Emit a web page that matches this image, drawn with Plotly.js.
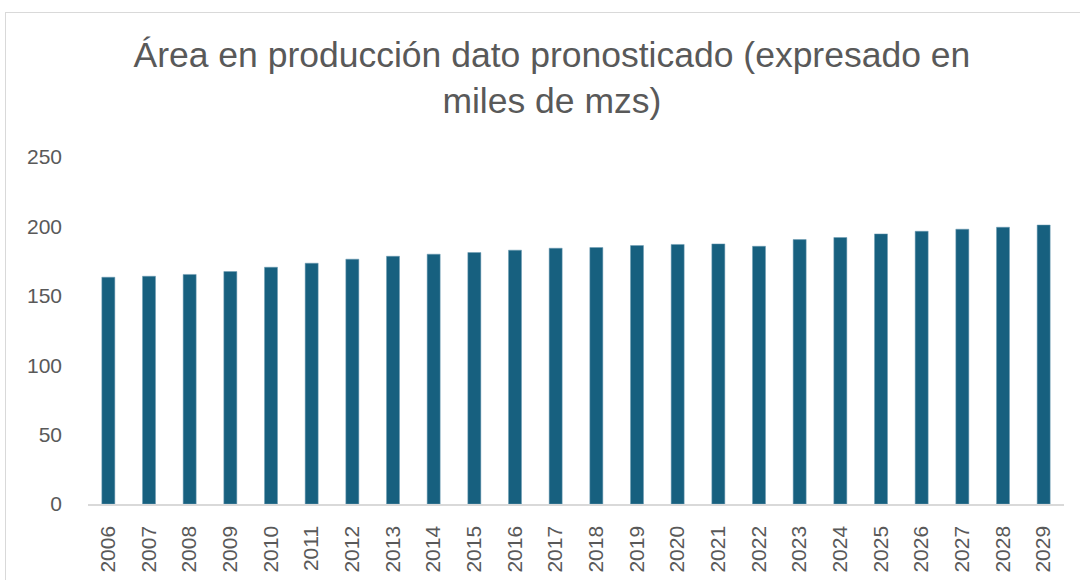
<!DOCTYPE html>
<html>
<head>
<meta charset="utf-8">
<script src="https://cdn.plot.ly/plotly-3.0.1.min.js"></script>
<style>
  html, body { margin: 0; padding: 0; background: #ffffff; overflow: hidden; }
  #frame { position: absolute; left: 5px; top: 12px; width: 1200px; height: 700px; border: 1px solid #d9d9d9; box-sizing: border-box; pointer-events: none; }
  #chart { position: absolute; left: 0; top: 0; width: 1080px; height: 580px; }
</style>
</head>
<body>
<div id="chart"></div>
<div id="frame"></div>
<script>
const years = ["2006","2007","2008","2009","2010","2011","2012","2013","2014","2015","2016","2017",
               "2018","2019","2020","2021","2022","2023","2024","2025","2026","2027","2028","2029"];
const area = [163.4, 164.1, 165.4, 167.5, 170.6, 173.5, 176.4, 178.5, 180.0, 181.2, 182.9, 184.3,
              184.8, 186.2, 187.0, 187.4, 185.7, 190.5, 192.0, 194.6, 196.5, 198.0, 199.4, 201.0];
const yTicks = [0, 50, 100, 150, 200, 250];

const FONT = 'Liberation Sans, Arial, sans-serif';

const trace = {
  type: 'bar',
  x: years,
  y: area,
  marker: { color: '#17607f', line: { color: '#6f9db5', width: 0.5 } },
  hoverinfo: 'x+y'
};

const layout = {
  width: 1080,
  height: 580,
  paper_bgcolor: 'rgba(0,0,0,0)',
  plot_bgcolor: '#ffffff',
  margin: { l: 88, r: 16, t: 157, b: 76 },
  bargap: 0.68,
  showlegend: false,
  font: { family: FONT, color: '#595959' },
  title: {
    text: 'Área en producción dato pronosticado (expresado en<br>miles de mzs)',
    font: { family: FONT, size: 35.5, color: '#595959' },
    x: 0.511, xref: 'container', xanchor: 'center',
    y: 0.884, yref: 'container', yanchor: 'middle'
  },
  xaxis: {
    type: 'category',
    tickangle: -90,
    tickfont: { family: FONT, size: 21, color: '#595959' },
    showgrid: false,
    showline: true,
    linecolor: '#d9d9d9',
    linewidth: 1.5,
    ticks: '',
    ticklabelstandoff: 12,
    fixedrange: true
  },
  yaxis: {
    range: [0, 250],
    tickvals: yTicks,
    ticktext: yTicks.map(String),
    tickfont: { family: FONT, size: 21, color: '#595959' },
    showgrid: false,
    zeroline: false,
    showline: false,
    ticks: '',
    ticklabelstandoff: 25,
    fixedrange: true
  }
};

Plotly.newPlot('chart', [trace], layout, { displayModeBar: false, staticPlot: true });
</script>
</body>
</html>
